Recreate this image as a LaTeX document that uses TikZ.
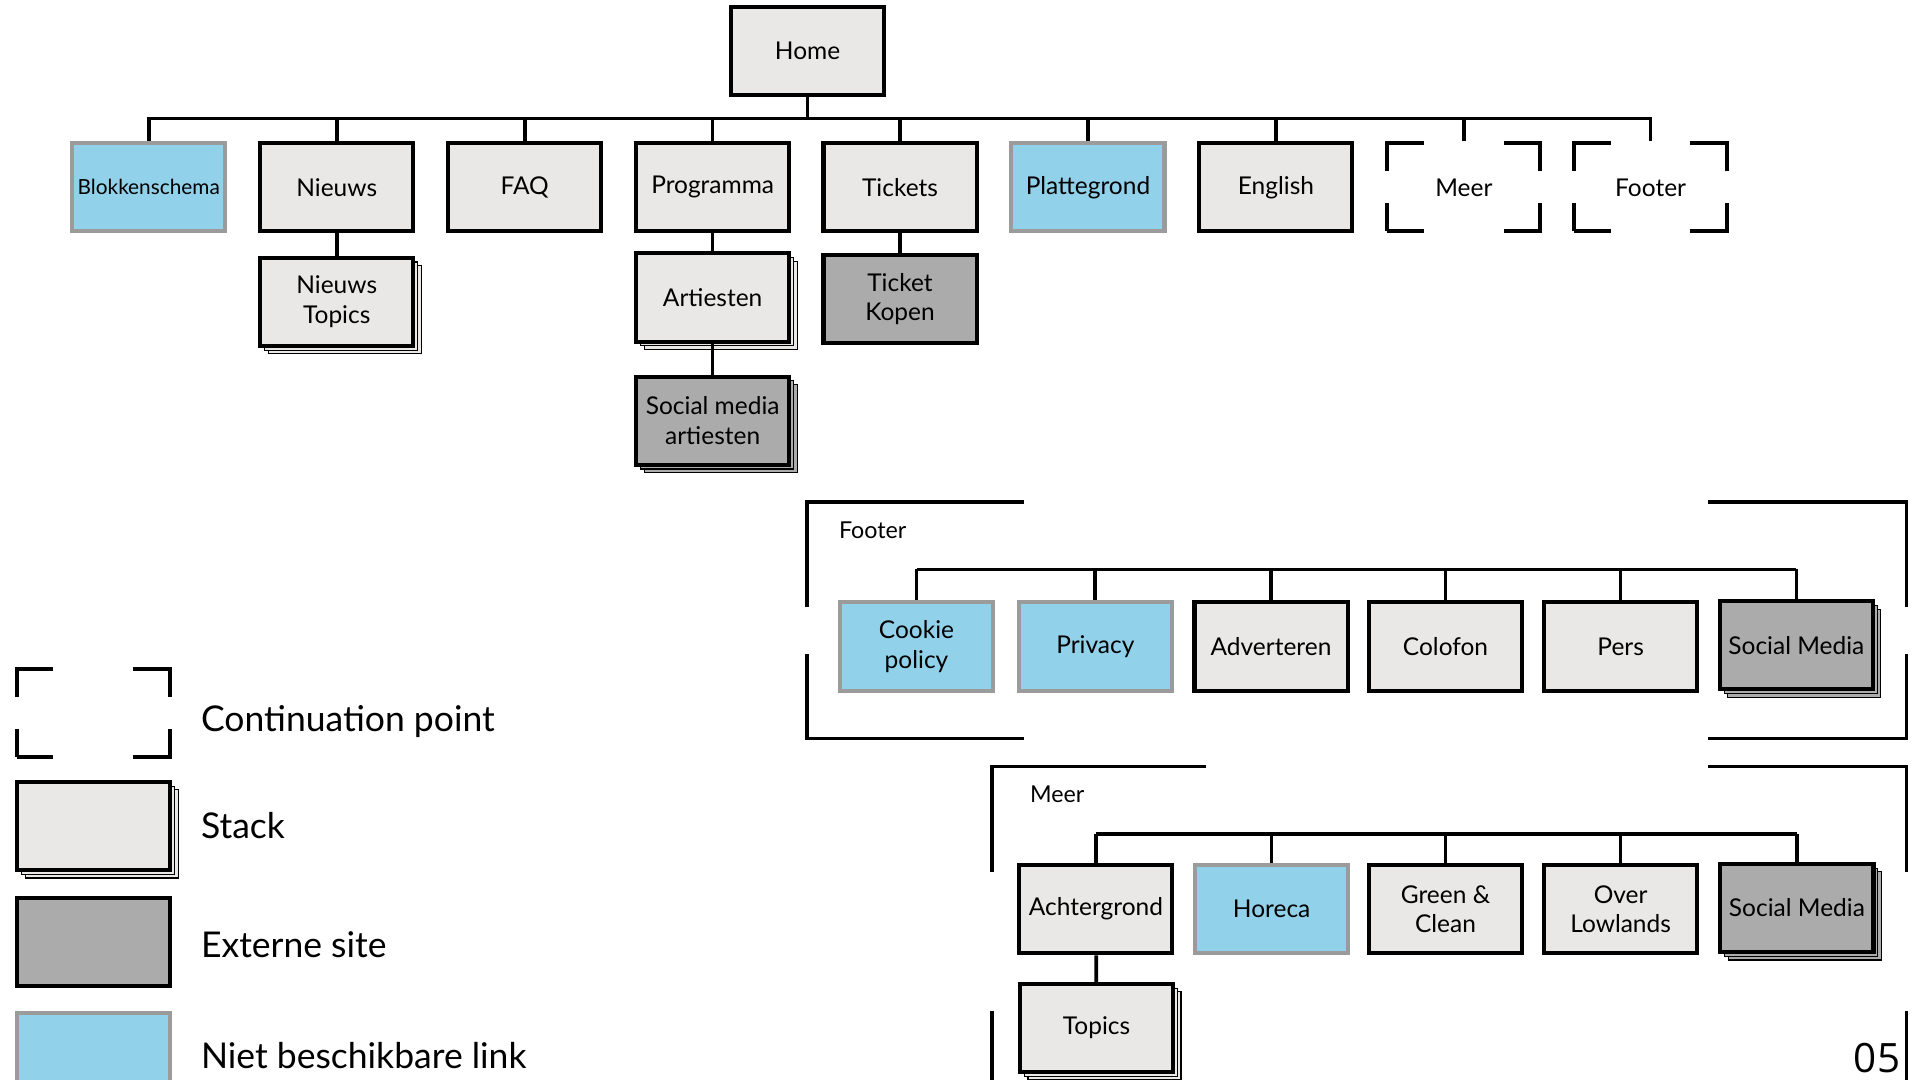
\documentclass[tikz,border=0pt]{standalone}
\usepackage{fontspec}
\setmainfont{Lato}
\newfontfamily\pagenumfont{Open Sans}
\usetikzlibrary{shadows}

\definecolor{pagegray}{RGB}{233,232,230}
\definecolor{extgray}{RGB}{171,171,171}
\definecolor{nolinkblue}{RGB}{146,209,234}
\definecolor{nolinkedge}{RGB}{155,155,155}

\tikzset{
  box/.style={rectangle, draw=black, line width=3.3pt, fill=pagegray, minimum width=125pt, minimum height=72pt, inner sep=1pt, align=center, font=\fontsize{20}{24}\selectfont},
  stackbox/.style={box, copy shadow={shadow xshift=6.5pt, shadow yshift=-6.5pt, draw=black, line width=0.9pt}, copy shadow={shadow xshift=3.5pt, shadow yshift=-3.5pt, draw=black, line width=0.9pt}},
  externbox/.style={fill=extgray},
  nolinkbox/.style={fill=nolinkblue, draw=nolinkedge},
  contpoint/.style={box, fill=none, dash pattern=on 53pt off 65pt on 53pt off 26pt, dash phase=23pt},
  link/.style={line width=3pt},
  framecorner/.style={line width=3pt},
  legendtext/.style={anchor=base west, inner sep=0pt, font=\fontsize{29}{34}\selectfont},
  framelabel/.style={anchor=base west, inner sep=0pt, font=\fontsize{19}{23}\selectfont},
}

\begin{document}
\begin{tikzpicture}[x=1pt, y=-1pt]
    \useasboundingbox (0,0) rectangle (1568,882);

    \node[box] (home) at (659.5,41.5) {Home};

    \node[box, nolinkbox, font=\fontsize{17}{20}\selectfont] (blok) at (121.5,153) {Blokkenschema};
    \node[box] (nieuws) at (275,153) {Nieuws};
    \node[box] (faq) at (428.5,153) {FAQ};
    \node[box] (programma) at (582,153) {Programma};
    \node[box] (tickets) at (735,153) {Tickets};
    \node[box, nolinkbox] (plattegrond) at (888.5,153) {Plattegrond};
    \node[box] (english) at (1042,153) {English};
    \node[contpoint] (meer) at (1195.5,153) {Meer};
    \node[contpoint] (footer) at (1348,153) {Footer};

    \node[stackbox] (nieuwstopics) at (275,246.5) {Nieuws\\Topics};
    \node[stackbox] (artiesten) at (582,243) {Artiesten};
    \node[box, externbox] (ticketkopen) at (735,244.5) {Ticket\\Kopen};
    \node[stackbox, externbox] (socialartiesten) at (582,343.5) {Social media\\artiesten};

    \draw[link] (home.south) -- ++(0,17.5) -| (blok.north);
    \draw[link] (home.south) -- ++(0,17.5) -| (nieuws.north);
    \draw[link] (home.south) -- ++(0,17.5) -| (faq.north);
    \draw[link] (home.south) -- ++(0,17.5) -| (programma.north);
    \draw[link] (home.south) -- ++(0,17.5) -| (tickets.north);
    \draw[link] (home.south) -- ++(0,17.5) -| (plattegrond.north);
    \draw[link] (home.south) -- ++(0,17.5) -| (english.north);
    \draw[link] (home.south) -- ++(0,17.5) -| (meer.north);
    \draw[link] (home.south) -- ++(0,17.5) -| (footer.north);
    \draw[link] (nieuws) -- (nieuwstopics);
    \draw[link] (programma) -- (artiesten);
    \draw[link] (tickets) -- (ticketkopen);
    \draw[link] (artiesten) -- (socialartiesten);

    \draw[framecorner] (836,410) -| (659,496);
    \draw[framecorner] (659,534) |- (836,603);
    \draw[framecorner] (1395,410) -| (1557,496);
    \draw[framecorner] (1557,534) |- (1395,603);
    \node[framelabel] (footerlabel) at (685,440) {Footer};

    \coordinate (footerbus) at (1108,465);
    \node[box, nolinkbox] (cookie) at (748.5,528) {Cookie\\policy};
    \node[box, nolinkbox] (privacy) at (894.5,528) {Privacy};
    \node[box] (adverteren) at (1038,528) {Adverteren};
    \node[box] (colofon) at (1180.5,528) {Colofon};
    \node[box] (pers) at (1323.5,528) {Pers};
    \node[stackbox, externbox] (footersocial) at (1467,527) {Social Media};

    \draw[link] (footerbus -| cookie.north) -- (footerbus -| footersocial.north);
    \foreach \n in {cookie,privacy,adverteren,colofon,pers,footersocial}
      \draw[link] (footerbus -| \n.north) -- (\n.north);

    \draw[framecorner] (985,626) -| (810,712);
    \draw[framecorner] (810,826) -- (810,890);
    \draw[framecorner] (1395,626) -| (1557,712);
    \draw[framecorner] (1557,826) -- (1557,890);
    \node[framelabel] (meerlabel) at (841,655) {Meer};

    \coordinate (meerbus) at (1180,681);
    \node[box] (achtergrond) at (895,742.5) {Achtergrond};
    \node[box, nolinkbox] (horeca) at (1038.5,742.5) {Horeca};
    \node[box] (greenclean) at (1180.5,742.5) {Green \&\\Clean};
    \node[box] (overlowlands) at (1323.5,742.5) {Over\\Lowlands};
    \node[stackbox, externbox] (meersocial) at (1467.5,741.5) {Social Media};
    \node[stackbox] (topics) at (895.5,839.5) {Topics};

    \draw[link] (meerbus -| achtergrond.north) -- (meerbus -| meersocial.north);
    \foreach \n in {achtergrond,horeca,greenclean,overlowlands,meersocial}
      \draw[link] (meerbus -| \n.north) -- (\n.north);
    \draw[link] (achtergrond) -- (topics);

    \node[contpoint] (legendcont) at (76,582.5) {};
    \node[stackbox] (legendstack) at (76.5,674.5) {};
    \node[box, externbox] (legendextern) at (76.5,769) {};
    \node[box, nolinkbox] (legendnolink) at (76.5,863) {};
    \node[legendtext] (contlabel) at (164,597) {Continuation point};
    \node[legendtext] (stacklabel) at (164,685) {Stack};
    \node[legendtext] (externlabel) at (164,782) {Externe site};
    \node[legendtext] (nolinklabel) at (164,873) {Niet beschikbare link};

    \node[anchor=base east, inner sep=0pt, font=\pagenumfont\fontsize{33}{40}\selectfont] (pagenum) at (1552,876) {05};
\end{tikzpicture}
\end{document}
